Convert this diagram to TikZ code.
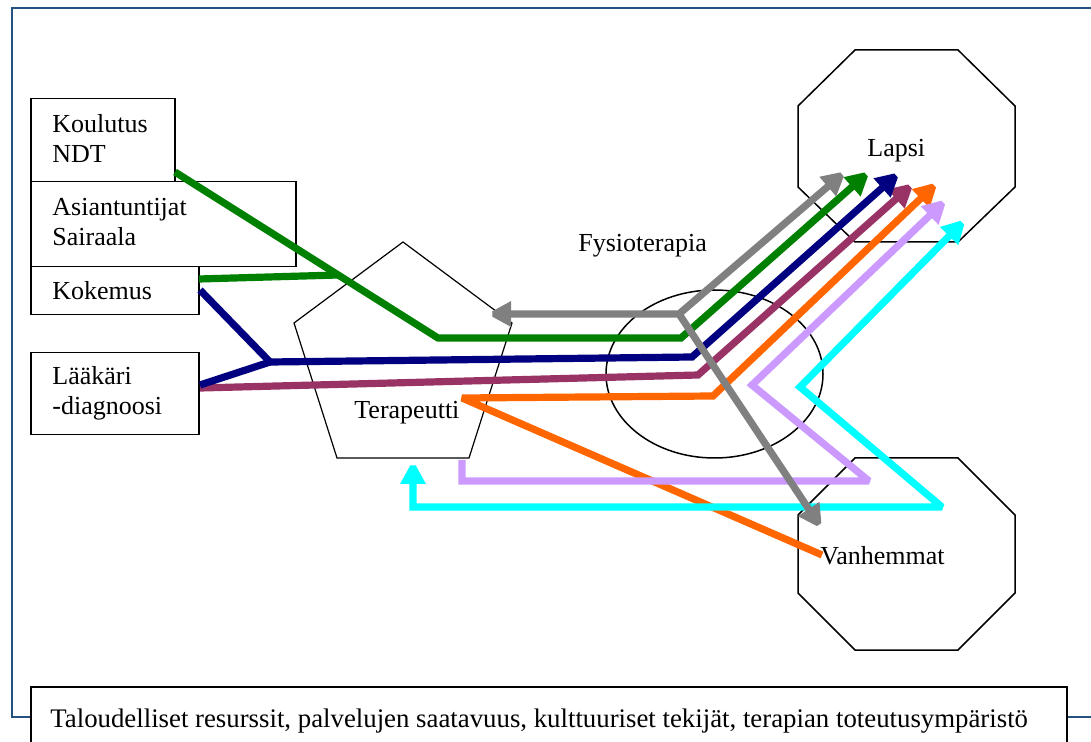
\documentclass[tikz,border=0pt]{standalone}
\usepackage{fontspec}
\setmainfont{Liberation Serif}
\usetikzlibrary{arrows.meta}
\definecolor{framec}{RGB}{36,80,130}
\definecolor{cgray}{HTML}{808080}
\definecolor{cgreen}{HTML}{008000}
\definecolor{cnavy}{HTML}{000080}
\definecolor{cmaroon}{HTML}{993366}
\definecolor{corange}{HTML}{FF6600}
\definecolor{clav}{HTML}{CC99FF}
\definecolor{ccyan}{HTML}{00FFFF}
\begin{document}
\begin{tikzpicture}[x=0.5pt,y=-0.5pt,
  outline/.style={draw=black, line width=0.75pt},
  boxnode/.style={outline, rectangle, anchor=north west, inner sep=0pt, fill=white},
  lbl/.style={inner sep=0pt, anchor=base west, font=\fontsize{13}{15}\selectfont},
  flow/.style={line width=3.6pt, miter limit=2},
  tipend/.style={-{Triangle[width=12pt,length=12pt]}},
  tipboth/.style={{Triangle[width=12pt,length=12pt]}-{Triangle[width=12pt,length=12pt]}}]
\useasboundingbox (0,0) rectangle (1091,742);
\fill[white] (0,0) rectangle (1091,742);
% frame
\draw[framec, line width=1pt] (1100,8) -- (12,8) -- (12,717) -- (1100,717);
% boxes
\node[boxnode, minimum width=72pt, minimum height=41.5pt] (koul) at (30,98) {};
\node[boxnode, minimum width=132.5pt, minimum height=42.5pt] (asia) at (30,181) {};
\node[boxnode, minimum width=84pt, minimum height=24pt] (koke) at (30,266) {};
\node[boxnode, minimum width=84pt, minimum height=41pt] (laak) at (30,352) {};
\node[boxnode, minimum width=518pt, minimum height=42pt] (bott) at (30,686) {};
% pentagon
\draw[draw=black, line width=0.6pt] (403,242) -- (512,323) -- (469,458) -- (337,458) -- (294,323) -- cycle;
% ellipse
\draw[outline] (714.5,374) ellipse [x radius=108.5, y radius=84];
% octagons
\draw[outline] (855,50) -- (958,50) -- (1015,106) -- (1015,187) -- (958,242) -- (855,242) -- (798,187) -- (798,106) -- cycle;
\draw[outline] (855,458) -- (958,458) -- (1015,515) -- (1015,593) -- (958,650) -- (855,650) -- (798,593) -- (798,515) -- cycle;
% waypoints
\coordinate (J) at (679,314);
\coordinate (gL) at (487,314);
\coordinate (gU) at (846,171);
\coordinate (gD) at (822,529);
\coordinate (gr0) at (175,172);
\coordinate (gr1) at (438,338);
\coordinate (gr2) at (681,338);
\coordinate (grT) at (870,171);
\coordinate (grK) at (199,279);
\coordinate (grM) at (338,275);
\coordinate (nvK) at (200,290);
\coordinate (nvL) at (200,385);
\coordinate (nvJ) at (270,362);
\coordinate (nv2) at (692,357);
\coordinate (nvT) at (900,172);
\coordinate (mr0) at (200,388);
\coordinate (mr1) at (698,375);
\coordinate (mrT) at (914,183);
\coordinate (or0) at (822,555);
\coordinate (or1) at (462,398);
\coordinate (or2) at (713,396);
\coordinate (orT) at (938,182);
\coordinate (lv0) at (462,460);
\coordinate (lv1) at (462,481);
\coordinate (lv2) at (869,481);
\coordinate (lv3) at (752,385);
\coordinate (lvT) at (947,199);
\coordinate (cy0) at (413,460);
\coordinate (cy1) at (413,507);
\coordinate (cy2) at (942,507);
\coordinate (cy3) at (800,387);
\coordinate (cyT) at (966,219);
% flows
\draw[flow, corange, tipend] (or0) -- (or1) -- (or2) -- (orT);
\draw[flow, cmaroon, tipend] (mr0) -- (mr1) -- (mrT);
\draw[flow, cnavy] (nvK) -- (nvJ);
\draw[flow, cnavy] (nvL) -- (nvJ);
\draw[flow, cnavy, tipend] (nvJ) -- (nv2) -- (nvT);
\draw[flow, cgreen] (grK) -- (grM);
\draw[flow, cgreen, tipend] (gr0) -- (gr1) -- (gr2) -- (grT);
\draw[flow, clav, tipend] (lv0) -- (lv1) -- (lv2) -- (lv3) -- (lvT);
\draw[flow, ccyan, tipboth] (cy0) -- (cy1) -- (cy2) -- (cy3) -- (cyT);
\draw[flow, cgray, tipboth] (gL) -- (J) -- (gU);
\draw[flow, cgray, tipend] (J) -- (gD);
% labels
\node[lbl] (tkoul) at (52,133) {Koulutus};
\node[lbl] (tndt) at (52,163) {NDT};
\node[lbl] (tasia) at (52,216) {Asiantuntijat};
\node[lbl] (tsair) at (52,246) {Sairaala};
\node[lbl] (tkoke) at (52,300) {Kokemus};
\node[lbl] (tlaak) at (52,385) {Lääkäri};
\node[lbl] (tdiag) at (52,415) {-diagnoosi};
\node[lbl] (tter) at (354,419) {Terapeutti};
\node[lbl] (tfys) at (578,252) {Fysioterapia};
\node[lbl] (tlap) at (867,157) {Lapsi};
\node[lbl] (tvan) at (820,564) {Vanhemmat};
\node[lbl, font=\fontsize{13.4}{15}\selectfont] (tbot) at (50,727) {Taloudelliset resurssit, palvelujen saatavuus, kulttuuriset tekijät, terapian toteutusympäristö};
\end{tikzpicture}
\end{document}
